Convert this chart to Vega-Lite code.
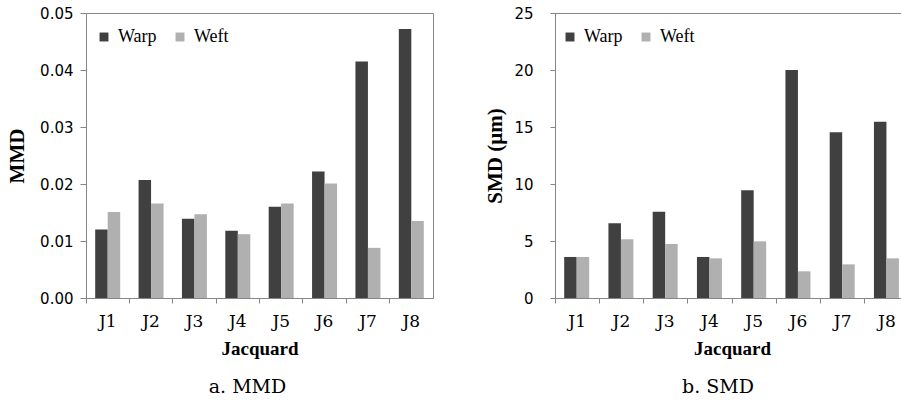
{
  "$schema": "https://vega.github.io/schema/vega-lite/v6.json",
  "padding": {"left": 6, "top": 5, "right": 0, "bottom": 0},
  "background": "white",
  "spacing": 50,
  "config": {
    "view": {"stroke": "#868686", "strokeWidth": 1},
    "axis": {"grid": false, "domainColor": "#868686", "tickColor": "#868686", "labelColor": "black", "titleColor": "black"}
  },
  "datasets": {
    "d": [
      {"jac": "J1", "yarn": "Warp", "mmd": 0.0120, "smd": 3.6},
      {"jac": "J1", "yarn": "Weft", "mmd": 0.0151, "smd": 3.6},
      {"jac": "J2", "yarn": "Warp", "mmd": 0.0207, "smd": 6.55},
      {"jac": "J2", "yarn": "Weft", "mmd": 0.0166, "smd": 5.15},
      {"jac": "J3", "yarn": "Warp", "mmd": 0.0139, "smd": 7.57},
      {"jac": "J3", "yarn": "Weft", "mmd": 0.0147, "smd": 4.74},
      {"jac": "J4", "yarn": "Warp", "mmd": 0.0118, "smd": 3.6},
      {"jac": "J4", "yarn": "Weft", "mmd": 0.0112, "smd": 3.48},
      {"jac": "J5", "yarn": "Warp", "mmd": 0.0160, "smd": 9.45},
      {"jac": "J5", "yarn": "Weft", "mmd": 0.0166, "smd": 4.97},
      {"jac": "J6", "yarn": "Warp", "mmd": 0.0222, "smd": 20.0},
      {"jac": "J6", "yarn": "Weft", "mmd": 0.0201, "smd": 2.34},
      {"jac": "J7", "yarn": "Warp", "mmd": 0.0415, "smd": 14.55},
      {"jac": "J7", "yarn": "Weft", "mmd": 0.0088, "smd": 2.95},
      {"jac": "J8", "yarn": "Warp", "mmd": 0.0472, "smd": 15.47},
      {"jac": "J8", "yarn": "Weft", "mmd": 0.0135, "smd": 3.48}
    ]
  },
  "resolve": {"legend": {"color": "independent"}, "scale": {"color": "independent"}},
  "hconcat": [
    {
      "width": 347,
      "height": 285,
      "data": {"name": "d"},
      "title": {"text": "a. MMD", "orient": "bottom", "anchor": "middle", "dx": -12, "offset": 20, "font": "DejaVu Serif", "fontSize": 19, "fontWeight": "normal", "color": "black"},
      "mark": {"type": "bar"},
      "encoding": {
        "x": {"field": "jac", "type": "nominal", "scale": {"paddingInner": 0, "paddingOuter": 0},
          "axis": {"title": "Jacquard", "labelAngle": 0, "bandPosition": 0, "tickSize": 5, "labelPadding": 10, "labelFont": "DejaVu Serif", "labelFontSize": 17, "titleFont": "Liberation Serif", "titleFontSize": 19, "titleFontWeight": "bold", "titlePadding": 10}},
        "xOffset": {"field": "yarn", "type": "nominal", "scale": {"paddingInner": 0, "paddingOuter": 0.735}},
        "y": {"field": "mmd", "type": "quantitative", "scale": {"domain": [0, 0.05]},
          "axis": {"title": "MMD", "values": [0, 0.01, 0.02, 0.03, 0.04, 0.05], "format": ".2f", "tickSize": 6, "labelPadding": 7, "labelFont": "DejaVu Sans", "labelFontSize": 15, "titleFont": "Liberation Serif", "titleFontSize": 21, "titleFontWeight": "bold", "titlePadding": 12}},
        "color": {"field": "yarn", "type": "nominal", "scale": {"domain": ["Warp", "Weft"], "range": ["#404040", "#b0b0b0"]},
          "legend": {"title": null, "orient": "none", "legendX": 9, "legendY": 15, "direction": "horizontal", "symbolType": "square", "symbolSize": 80, "labelFont": "Liberation Serif", "labelFontSize": 18, "labelColor": "black", "padding": 0, "columnPadding": 14, "labelOffset": 5}}
      }
    },
    {
      "width": 354,
      "height": 285,
      "data": {"name": "d"},
      "title": {"text": "b. SMD", "orient": "bottom", "anchor": "middle", "dx": -14, "offset": 20, "font": "DejaVu Serif", "fontSize": 19, "fontWeight": "normal", "color": "black"},
      "mark": {"type": "bar"},
      "encoding": {
        "x": {"field": "jac", "type": "nominal", "scale": {"paddingInner": 0, "paddingOuter": 0},
          "axis": {"title": "Jacquard", "labelAngle": 0, "bandPosition": 0, "tickSize": 5, "labelPadding": 10, "labelFont": "DejaVu Serif", "labelFontSize": 17, "titleFont": "Liberation Serif", "titleFontSize": 19, "titleFontWeight": "bold", "titlePadding": 10}},
        "xOffset": {"field": "yarn", "type": "nominal", "scale": {"paddingInner": 0, "paddingOuter": 0.77}},
        "y": {"field": "smd", "type": "quantitative", "scale": {"domain": [0, 25]},
          "axis": {"title": "SMD (μm)", "values": [0, 5, 10, 15, 20, 25], "tickSize": 5, "labelPadding": 17, "labelFont": "DejaVu Sans", "labelFontSize": 15, "titleFont": "Liberation Serif", "titleFontSize": 21, "titleFontWeight": "bold", "titlePadding": 8}},
        "color": {"field": "yarn", "type": "nominal", "scale": {"domain": ["Warp", "Weft"], "range": ["#404040", "#b0b0b0"]},
          "legend": {"title": null, "orient": "none", "legendX": 6, "legendY": 15, "direction": "horizontal", "symbolType": "square", "symbolSize": 80, "labelFont": "Liberation Serif", "labelFontSize": 18, "labelColor": "black", "padding": 0, "columnPadding": 14, "labelOffset": 5}}
      }
    }
  ]
}
